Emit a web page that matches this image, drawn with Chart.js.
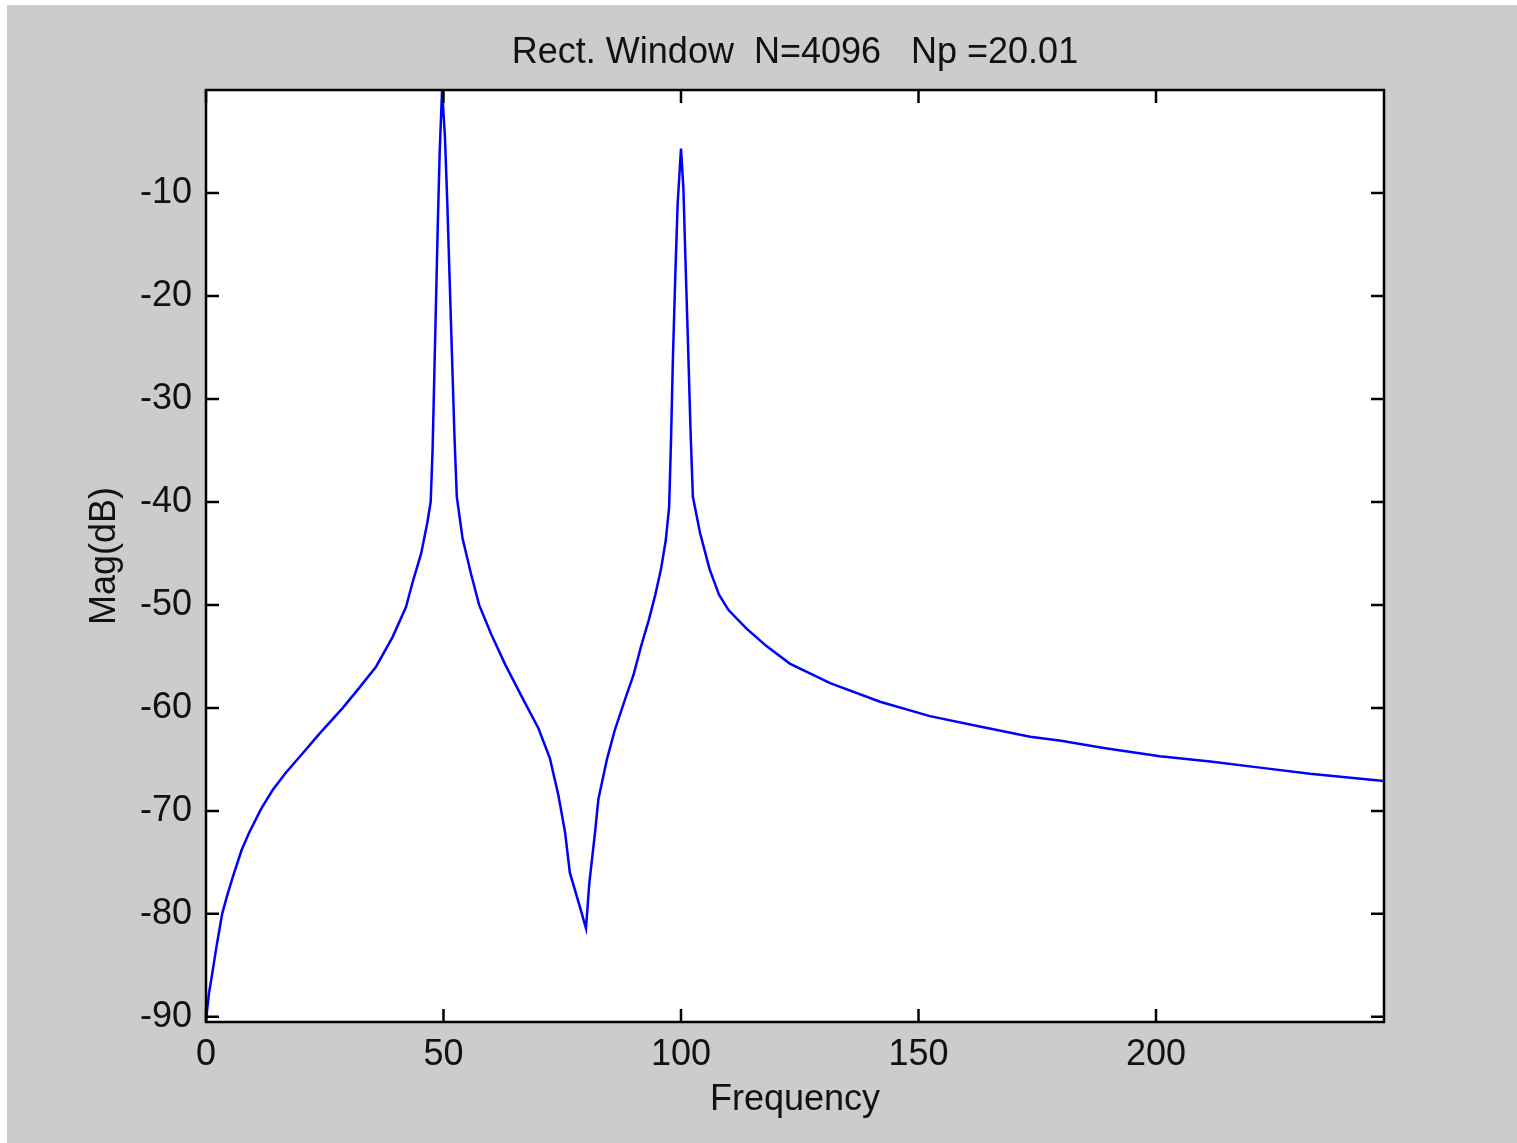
<!DOCTYPE html>
<html lang="en">
<head>
  <meta charset="UTF-8" />
  <title>Rect. Window spectrum</title>
  <script src="https://cdn.jsdelivr.net/npm/chart.js"></script>
  <style>
    body { margin: 0; background: #fff; }
    #wrap { position: absolute; left: 7px; top: 5px; width: 1510px; height: 1138px; background: #cccccc; }
  </style>
</head>
<body>
  <div id="wrap"><canvas id="spec"></canvas></div>

  <script>
    // values (frequency, magnitude in dB)
    const freq = [0, 0.6, 1.2, 2.2, 3.4, 4.4, 5.8, 7.5, 9.1, 11.6, 14, 16.8, 20, 23.9, 28.8, 32, 35.8, 39.3, 42.1, 43.5,
      45.3, 46.6, 47.3, 47.7, 48, 48.4, 48.8, 49.2, 49.7, 50.3, 50.8, 51.3, 51.8, 52.3, 52.8, 54, 55.8, 57.5, 60, 63,
      66.8, 70, 72.4, 74.2, 75.6, 76.6, 78.7, 80, 80.7, 81.9, 82.6, 84.4, 86.1, 88.2, 90, 91.6, 93.2, 94.6, 95.8, 96.8,
      97.5, 97.9, 98.3, 98.8, 99.3, 100, 100.5, 101, 101.5, 102, 102.5, 104, 106, 108, 110, 113.8, 118, 122.9, 131.4,
      141.9, 152.4, 162.9, 173.5, 180, 189, 200.8, 211.4, 221.9, 232.4, 248];
    const magDb = [-90.4, -87.8, -86.1, -83.2, -80, -78.3, -76.2, -73.8, -72.1, -69.8, -68, -66.3, -64.6, -62.5, -60, -58.2, -56, -53.1, -50.2, -47.8,
      -45, -42, -40, -35, -29, -21, -13, -6, 0, -4.5, -11, -18.5, -26, -33.5, -39.5, -43.5, -47, -50, -52.8, -55.8,
      -59.2, -62, -64.9, -68.5, -72.1, -76, -79.3, -81.4, -77, -72.1, -68.9, -65, -62.1, -59.2, -56.8, -54, -51.5, -49, -46.5, -43.7,
      -40.5, -34, -26, -18, -11, -5.7, -9.5, -17.5, -25, -33, -39.5, -43, -46.5, -49, -50.5, -52.3, -54, -55.7, -57.6,
      -59.4, -60.8, -61.8, -62.8, -63.2, -63.9, -64.7, -65.2, -65.8, -66.4, -67.1];
    const xTicks = [0, 50, 100, 150, 200];
    const yTicks = [-90, -80, -70, -60, -50, -40, -30, -20, -10];
    const titleText = 'Rect. Window  N=4096   Np =20.01';

    const fontFamily = '"Liberation Sans", Arial, sans-serif';

    // MATLAB style box with inward ticks on all four sides
    const matlabBox = {
      id: 'matlabBox',
      afterDatasetsDraw(chart) {
        const { ctx, chartArea: a, scales: { x, y } } = chart;
        const len = 13;
        ctx.save();
        ctx.strokeStyle = '#000';
        ctx.lineWidth = 2.5;
        ctx.beginPath();
        x.ticks.forEach(t => {
          const px = x.getPixelForValue(t.value);
          ctx.moveTo(px, a.bottom); ctx.lineTo(px, a.bottom - len);
          ctx.moveTo(px, a.top); ctx.lineTo(px, a.top + len);
        });
        y.ticks.forEach(t => {
          const py = y.getPixelForValue(t.value);
          ctx.moveTo(a.left, py); ctx.lineTo(a.left + len, py);
          ctx.moveTo(a.right, py); ctx.lineTo(a.right - len, py);
        });
        ctx.stroke();
        ctx.strokeRect(a.left, a.top, a.right - a.left, a.bottom - a.top);
        ctx.restore();
      }
    };

    const whiteArea = {
      id: 'whiteArea',
      beforeDraw(chart) {
        const { ctx, chartArea: a } = chart;
        ctx.save();
        ctx.fillStyle = '#fff';
        ctx.fillRect(a.left, a.top, a.right - a.left, a.bottom - a.top);
        ctx.restore();
      }
    };

    new Chart(document.getElementById('spec'), {
      type: 'line',
      data: {
        datasets: [{
          data: freq.map((f, i) => ({ x: f, y: magDb[i] })),
          borderColor: '#0000ff',
          borderWidth: 2.5,
          pointRadius: 0,
          tension: 0
        }]
      },
      options: {
        responsive: true,
        maintainAspectRatio: false,
        animation: false,
        layout: { padding: { left: 0, right: 133, top: 0, bottom: 0 } },
        plugins: {
          legend: { display: false },
          tooltip: { enabled: false },
          title: {
            display: true,
            fullSize: false,
            text: titleText,
            color: '#111',
            font: { family: fontFamily, size: 36, weight: 'normal' },
            padding: { top: 26, bottom: 15.8 }
          }
        },
        scales: {
          x: {
            type: 'linear',
            min: 0,
            max: 248,
            afterBuildTicks: s => { s.ticks = xTicks.map(v => ({ value: v })); },
            afterFit: s => { s.height = 121; },
            grid: { display: false, drawTicks: false },
            border: { display: false },
            ticks: { color: '#111', padding: 11, maxRotation: 0, font: { family: fontFamily, size: 36 } },
            title: {
              display: true, text: 'Frequency', color: '#111',
              font: { family: fontFamily, size: 36 }, padding: { top: 0, bottom: 21 }
            }
          },
          y: {
            type: 'linear',
            min: -90.5,
            max: 0,
            afterBuildTicks: s => { s.ticks = yTicks.map(v => ({ value: v })); },
            afterFit: s => { s.width = 199; },
            grid: { display: false, drawTicks: false },
            border: { display: false },
            ticks: { color: '#111', padding: 14, font: { family: fontFamily, size: 36 } },
            title: {
              display: true, text: 'Mag(dB)', color: '#111',
              font: { family: fontFamily, size: 36 }, padding: { top: 76, bottom: 0 }
            }
          }
        }
      },
      plugins: [whiteArea, matlabBox]
    });
  </script>
</body>
</html>
